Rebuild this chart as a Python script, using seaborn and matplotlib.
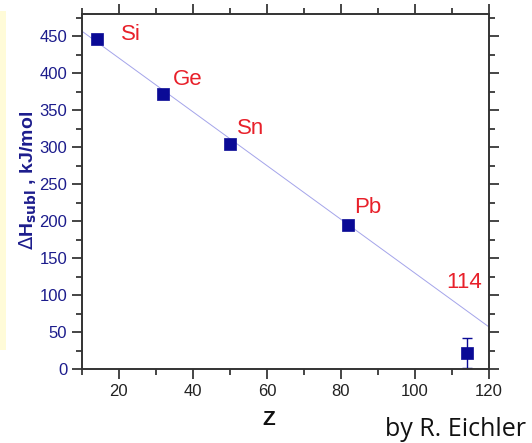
import numpy as np
import pandas as pd
import matplotlib
matplotlib.use('Agg')
import matplotlib.pyplot as plt
import seaborn as sns
from matplotlib.ticker import MultipleLocator
from matplotlib.patches import Rectangle

sns.set_style("ticks")
plt.rcParams['font.family'] = ['Liberation Sans', 'DejaVu Sans']

# --- Dados ---
elementos = ['Si', 'Ge', 'Sn', 'Pb', '114']
z_valores = [14, 32, 50, 82, 114]
dh_subl = [447, 372, 304, 195, 22]
erro_114 = 20

# Reta de tendência (extremos)
z_reta = [10, 120]
dh_reta = [457, 57]

# Posição dos rótulos dos elementos
rotulo_x = [20.5, 34.5, 51.8, 83.6, 118.2]
rotulo_y = [453, 392, 325, 219, 117]

df = pd.DataFrame({'Z': z_valores, 'dH': dh_subl, 'Elemento': elementos})
df_reta = pd.DataFrame({'Z': z_reta, 'dH': dh_reta})

azul = '#0a0a96'
vermelho = '#e8202a'

fig = plt.figure(figsize=(5.32, 4.43), dpi=100)
ax = fig.add_axes([0.154, 0.167, 0.765, 0.801])

# faixa amarela à esquerda (resto da imagem original)
fig.patches.append(Rectangle((0, 0.21), 0.011, 0.765, transform=fig.transFigure,
                             facecolor='#fffbd8', edgecolor='none'))

sns.lineplot(data=df_reta, x='Z', y='dH', ax=ax, color='#a4a4ea', linewidth=0.7)
ax.errorbar(z_valores[-1], dh_subl[-1], yerr=erro_114, fmt='none',
            ecolor=azul, elinewidth=1, capsize=3.5, capthick=1)
sns.scatterplot(data=df, x='Z', y='dH', ax=ax, marker='s', s=70,
                color=azul, edgecolor=azul, linewidth=0.5, zorder=5)

for nome, x, y in zip(elementos, rotulo_x, rotulo_y):
    ha = 'right' if nome == '114' else 'left'
    ax.text(x, y, nome, color=vermelho, fontsize=16, ha=ha, va='center')

ax.set_xlim(10, 120)
ax.set_ylim(0, 480)
ax.xaxis.set_major_locator(MultipleLocator(20))
ax.xaxis.set_minor_locator(MultipleLocator(10))
ax.yaxis.set_major_locator(MultipleLocator(50))
ax.yaxis.set_minor_locator(MultipleLocator(25))
ax.tick_params(axis='both', which='major', direction='out', length=7, width=1.2,
               labelsize=12, top=True, right=True)
ax.tick_params(axis='both', which='minor', direction='out', length=4, width=1.2,
               top=True, right=True)
ax.tick_params(axis='y', labelcolor='#1c1c8c')
ax.tick_params(axis='x', labelcolor='#222222')
ax.set_yticks([0, 50, 100, 150, 200, 250, 300, 350, 400, 450])
for s in ax.spines.values():
    s.set_visible(True)
    s.set_linewidth(1.4)
    s.set_color('#333333')

ax.set_xlabel('Z', fontsize=15, fontweight='bold', color='#111111')
ax.xaxis.set_label_coords(0.46, -0.115)
ax.set_ylabel(r'$\Delta$H$_{\mathbf{subl}}$ , kJ/mol', fontsize=14, fontweight='bold',
              color='#1c1c8c')
ax.yaxis.set_label_coords(-0.105, 0.53)

fig.text(0.988, 0.003, 'by R. Eichler', fontsize=18, ha='right', va='bottom',
         family=['Open Sans', 'DejaVu Sans'], color='#111111')

fig.savefig('out.png', dpi=100)
